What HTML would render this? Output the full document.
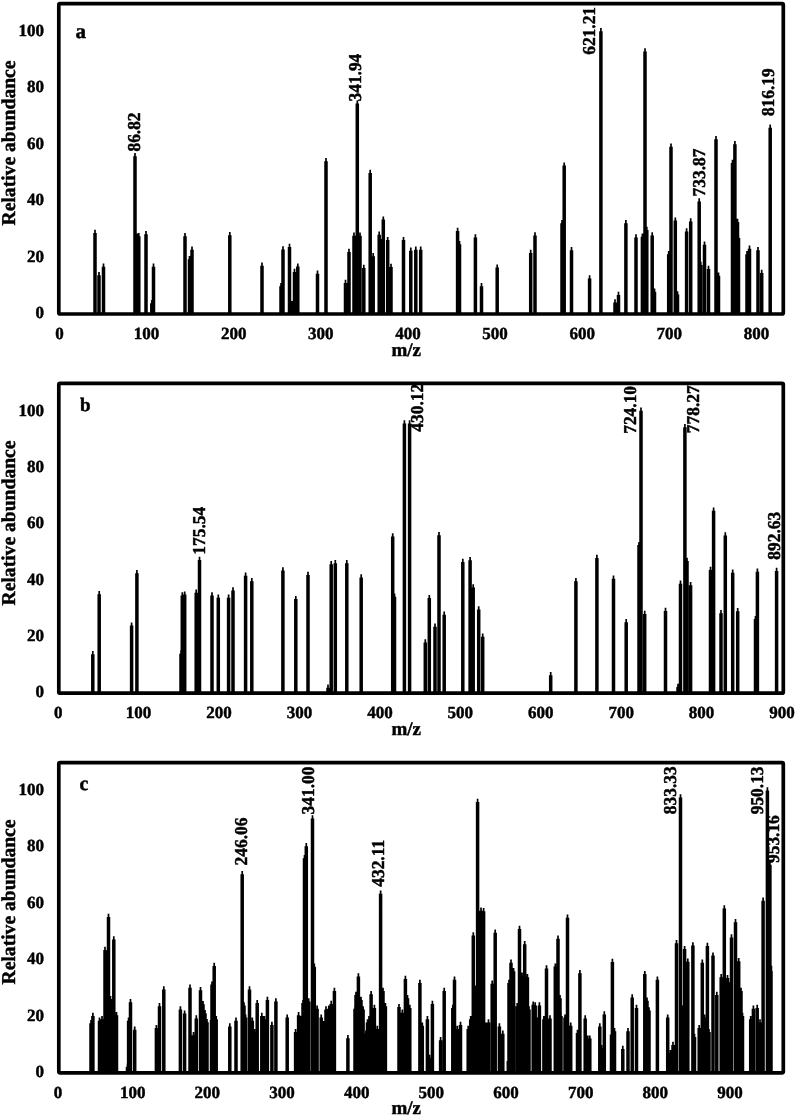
<!DOCTYPE html>
<html><head><meta charset="utf-8"><style>
html,body{margin:0;padding:0;background:#fff;}
svg{display:block;will-change:transform;}
text{font-family:"Liberation Serif", serif;font-weight:bold;fill:#000;stroke:#000;stroke-width:0.45px;text-rendering:geometricPrecision;}
</style></head><body>
<svg width="797" height="1117" viewBox="0 0 797 1117">
<rect x="0" y="0" width="797" height="1117" fill="#fff"/>

<path d="M93.25 314V233H94.15V229.8H95.85V233H96.75V314ZM97.25 314V275.2H98.15V272H99.85V275.2H100.75V314ZM101.75 314V266.7H102.65V263.5H104.35V266.7H105.25V314ZM133.25 314V156.2H134.15V153H135.85V156.2H136.75V314ZM135.75 314V236.7H136.65V233.5H138.35V236.7H139.25V314ZM137.05 314V236.2H137.95V233H139.65V236.2H140.55V314ZM144.25 314V234.2H145.15V231H146.85V234.2H147.75V314ZM150.05 314V303.2H150.95V300H152.65V303.2H153.55V314ZM151.75 314V266.7H152.65V263.5H154.35V266.7H155.25V314ZM183.25 314V236.2H184.15V233H185.85V236.2H186.75V314ZM187.75 314V259.2H188.65V256H190.35V259.2H191.25V314ZM190.25 314V249.7H191.15V246.5H192.85V249.7H193.75V314ZM228.05 314V235.2H228.95V232H230.65V235.2H231.55V314ZM260.25 314V265.7H261.15V262.5H262.85V265.7H263.75V314ZM279.25 314V286.2H280.15V283H281.85V286.2H282.75V314ZM281.25 314V249.5H282.15V246.3H283.85V249.5H284.75V314ZM287.75 314V246.9H288.65V243.7H290.35V246.9H291.25V314ZM290.25 314V304.2H291.15V301H292.85V304.2H293.75V314ZM292.75 314V271.9H293.65V268.7H295.35V271.9H296.25V314ZM296.05 314V266.6H296.95V263.4H298.65V266.6H299.55V314ZM315.75 314V273.7H316.65V270.5H318.35V273.7H319.25V314ZM324.25 314V161.2H325.15V158H326.85V161.2H327.75V314ZM343.75 314V283H344.65V279.8H346.35V283H347.25V314ZM347.25 314V251.9H348.15V248.7H349.85V251.9H350.75V314ZM352.25 314V235.8H353.15V232.6H354.85V235.8H355.75V314ZM355.55 314V103.6H356.45V100.4H358.15V103.6H359.05V314ZM358.25 314V235.8H359.15V232.6H360.85V235.8H361.75V314ZM362.05 314V268H362.95V264.8H364.65V268H365.55V314ZM368.45 314V173H369.35V169.8H371.05V173H371.95V314ZM371.45 314V256.2H372.35V253H374.05V256.2H374.95V314ZM377.45 314V234.7H378.35V231.5H380.05V234.7H380.95V314ZM379.75 314V242.2H380.65V239H382.35V242.2H383.25V314ZM381.55 314V219.6H382.45V216.4H384.15V219.6H385.05V314ZM385.95 314V240.1H386.85V236.9H388.55V240.1H389.45V314ZM389.25 314V266.9H390.15V263.7H391.85V266.9H392.75V314ZM401.75 314V240.1H402.65V236.9H404.35V240.1H405.25V314ZM409.05 314V250.8H409.95V247.6H411.65V250.8H412.55V314ZM414.05 314V249.7H414.95V246.5H416.65V249.7H417.55V314ZM418.95 314V249.7H419.85V246.5H421.55V249.7H422.45V314ZM455.85 314V231H456.75V227.8H458.45V231H459.35V314ZM457.75 314V244.2H458.65V241H460.35V244.2H461.25V314ZM473.65 314V237.5H474.55V234.3H476.25V237.5H477.15V314ZM479.75 314V286.2H480.65V283H482.35V286.2H483.25V314ZM495.45 314V267.6H496.35V264.4H498.05V267.6H498.95V314ZM528.95 314V252.9H529.85V249.7H531.55V252.9H532.45V314ZM533.25 314V235.4H534.15V232.2H535.85V235.4H536.75V314ZM560.25 314V223.3H561.15V220.1H562.85V223.3H563.75V314ZM562.45 314V165.6H563.35V162.4H565.05V165.6H565.95V314ZM569.75 314V250.2H570.65V247H572.35V250.2H573.25V314ZM587.85 314V278.4H588.75V275.2H590.45V278.4H591.35V314ZM599.15 314V31.2H600.05V28H601.75V31.2H602.65V314ZM613.25 314V302.5H614.15V299.3H615.85V302.5H616.75V314ZM616.75 314V295H617.65V291.8H619.35V295H620.25V314ZM624.15 314V223.3H625.05V220.1H626.75V223.3H627.65V314ZM634.25 314V237.5H635.15V234.3H636.85V237.5H637.75V314ZM640.65 314V236.7H641.55V233.5H643.25V236.7H644.15V314ZM643.25 314V51.4H644.15V48.2H645.85V51.4H646.75V314ZM645.05 314V230H645.95V226.8H647.65V230H648.55V314ZM650.45 314V235.4H651.35V232.2H653.05V235.4H653.95V314ZM652.75 314V291.8H653.65V288.6H655.35V291.8H656.25V314ZM666.95 314V254.2H667.85V251H669.55V254.2H670.45V314ZM669.25 314V146.8H670.15V143.6H671.85V146.8H672.75V314ZM673.55 314V220.6H674.45V217.4H676.15V220.6H677.05V314ZM675.75 314V294.5H676.65V291.3H678.35V294.5H679.25V314ZM684.85 314V231.4H685.75V228.2H687.45V231.4H688.35V314ZM688.95 314V221.4H689.85V218.2H691.55V221.4H692.45V314ZM697.45 314V201.5H698.35V198.3H700.05V201.5H700.95V314ZM699.05 314V264.9H699.95V261.7H701.65V264.9H702.55V314ZM702.75 314V244.8H703.65V241.6H705.35V244.8H706.25V314ZM706.75 314V269H707.65V265.8H709.35V269H710.25V314ZM714.25 314V139.2H715.15V136H716.85V139.2H717.75V314ZM716.75 314V275.7H717.65V272.5H719.35V275.7H720.25V314ZM730.75 314V162.9H731.65V159.7H733.35V162.9H734.25V314ZM733.15 314V144.2H734.05V141H735.75V144.2H736.65V314ZM735.75 314V222H736.65V218.8H738.35V222H739.25V314ZM736.75 314V238.1H737.65V234.9H739.35V238.1H740.25V314ZM745.25 314V254.2H746.15V251H747.85V254.2H748.75V314ZM747.75 314V248.8H748.65V245.6H750.35V248.8H751.25V314ZM756.25 314V250.2H757.15V247H758.85V250.2H759.75V314ZM759.95 314V273H760.85V269.8H762.55V273H763.45V314ZM768.45 314V127.7H769.35V124.5H771.05V127.7H771.95V314Z" fill="#000"/>
<rect x="58.8" y="3.6" width="724.5" height="310.4" rx="1.3" fill="none" stroke="#000" stroke-width="3.7"/>
<text x="44" y="318.1" font-size="17" text-anchor="end">0</text>
<text x="44" y="261.66" font-size="17" text-anchor="end">20</text>
<text x="44" y="205.23" font-size="17" text-anchor="end">40</text>
<text x="44" y="148.79" font-size="17" text-anchor="end">60</text>
<text x="44" y="92.35" font-size="17" text-anchor="end">80</text>
<text x="44" y="35.92" font-size="17" text-anchor="end">100</text>
<text x="59.4" y="338.5" font-size="17" text-anchor="middle">0</text>
<text x="146.53" y="338.5" font-size="17" text-anchor="middle">100</text>
<text x="233.66" y="338.5" font-size="17" text-anchor="middle">200</text>
<text x="320.79" y="338.5" font-size="17" text-anchor="middle">300</text>
<text x="407.92" y="338.5" font-size="17" text-anchor="middle">400</text>
<text x="495.05" y="338.5" font-size="17" text-anchor="middle">500</text>
<text x="582.18" y="338.5" font-size="17" text-anchor="middle">600</text>
<text x="669.31" y="338.5" font-size="17" text-anchor="middle">700</text>
<text x="756.44" y="338.5" font-size="17" text-anchor="middle">800</text>
<text x="406.3" y="355.6" font-size="19" text-anchor="middle">m/z</text>
<text transform="translate(14.9 143.0) rotate(-90)" x="0" y="0" font-size="19.6" text-anchor="middle">Relative abundance</text>
<text x="75.6" y="38.3" font-size="21">a</text>
<text transform="translate(139.8 132) rotate(-90) scale(1 1.04)" x="0" y="0" font-size="17.4" text-anchor="middle">86.82</text>
<text transform="translate(361.4 77.6) rotate(-90) scale(1 1.04)" x="0" y="0" font-size="17.4" text-anchor="middle">341.94</text>
<text transform="translate(595.1 30.9) rotate(-90) scale(1 1.04)" x="0" y="0" font-size="17.4" text-anchor="middle">621.21</text>
<text transform="translate(705.3 172.5) rotate(-90) scale(1 1.04)" x="0" y="0" font-size="17.4" text-anchor="middle">733.87</text>
<text transform="translate(774.1 92.2) rotate(-90) scale(1 1.04)" x="0" y="0" font-size="17.4" text-anchor="middle">816.19</text>
<path d="M91.05 693.2V654.2H91.95V651H93.65V654.2H94.55V693.2ZM97.45 693.2V594.2H98.35V591H100.05V594.2H100.95V693.2ZM129.85 693.2V625.6H130.75V622.4H132.45V625.6H133.35V693.2ZM135.15 693.2V573.3H136.05V570.1H137.75V573.3H138.65V693.2ZM179.25 693.2V653.7H180.15V650.5H181.85V653.7H182.75V693.2ZM180.55 693.2V595.5H181.45V592.3H183.15V595.5H184.05V693.2ZM182.95 693.2V594.6H183.85V591.4H185.55V594.6H186.45V693.2ZM194.45 693.2V592.8H195.35V589.6H197.05V592.8H197.95V693.2ZM197.75 693.2V560H198.65V556.8H200.35V560H201.25V693.2ZM210.25 693.2V595.5H211.15V592.3H212.85V595.5H213.75V693.2ZM216.55 693.2V597.8H217.45V594.6H219.15V597.8H220.05V693.2ZM226.85 693.2V597.8H227.75V594.6H229.45V597.8H230.35V693.2ZM231.25 693.2V590.5H232.15V587.3H233.85V590.5H234.75V693.2ZM243.85 693.2V575.8H244.75V572.6H246.45V575.8H247.35V693.2ZM250.05 693.2V581.2H250.95V578H252.65V581.2H253.55V693.2ZM281.15 693.2V570.4H282.05V567.2H283.75V570.4H284.65V693.2ZM294.05 693.2V599.1H294.95V595.9H296.65V599.1H297.55V693.2ZM306.25 693.2V574.9H307.15V571.7H308.85V574.9H309.75V693.2ZM326.25 693.2V687.8H327.15V684.6H328.85V687.8H329.75V693.2ZM329.45 693.2V564.2H330.35V561H332.05V564.2H332.95V693.2ZM333.55 693.2V563.2H334.45V560H336.15V563.2H337.05V693.2ZM345.05 693.2V563.2H345.95V560H347.65V563.2H348.55V693.2ZM359.45 693.2V577.5H360.35V574.3H362.05V577.5H362.95V693.2ZM390.95 693.2V536.5H391.85V533.3H393.55V536.5H394.45V693.2ZM392.75 693.2V596.7H393.65V593.5H395.35V596.7H396.25V693.2ZM402.65 693.2V423.4H403.55V420.2H405.25V423.4H406.15V693.2ZM407.85 693.2V423.4H408.75V420.2H410.45V423.4H411.35V693.2ZM423.55 693.2V642.5H424.45V639.3H426.15V642.5H427.05V693.2ZM427.55 693.2V598.1H428.45V594.9H430.15V598.1H431.05V693.2ZM433.25 693.2V626.7H434.15V623.5H435.85V626.7H436.75V693.2ZM437.25 693.2V535.2H438.15V532H439.85V535.2H440.75V693.2ZM442.45 693.2V614.7H443.35V611.5H445.05V614.7H445.95V693.2ZM461.05 693.2V562H461.95V558.8H463.65V562H464.55V693.2ZM468.35 693.2V560.2H469.25V557H470.95V560.2H471.85V693.2ZM471.45 693.2V587.4H472.35V584.2H474.05V587.4H474.95V693.2ZM476.95 693.2V609.5H477.85V606.3H479.55V609.5H480.45V693.2ZM480.95 693.2V636.7H481.85V633.5H483.55V636.7H484.45V693.2ZM548.95 693.2V675.2H549.85V672H551.55V675.2H552.45V693.2ZM574.15 693.2V581.2H575.05V578H576.75V581.2H577.65V693.2ZM595.15 693.2V557.9H596.05V554.7H597.75V557.9H598.65V693.2ZM611.75 693.2V578.8H612.65V575.6H614.35V578.8H615.25V693.2ZM624.45 693.2V622.2H625.35V619H627.05V622.2H627.95V693.2ZM637.25 693.2V545.1H638.15V541.9H639.85V545.1H640.75V693.2ZM639.25 693.2V410.7H640.15V407.5H641.85V410.7H642.75V693.2ZM642.95 693.2V613.9H643.85V610.7H645.55V613.9H646.45V693.2ZM663.75 693.2V611H664.65V607.8H666.35V611H667.25V693.2ZM676.25 693.2V686.9H677.15V683.7H678.85V686.9H679.75V693.2ZM678.75 693.2V583.8H679.65V580.6H681.35V583.8H682.25V693.2ZM683.15 693.2V427.3H684.05V424.1H685.75V427.3H686.65V693.2ZM685.25 693.2V560.9H686.15V557.7H687.85V560.9H688.75V693.2ZM688.85 693.2V585.2H689.75V582H691.45V585.2H692.35V693.2ZM708.75 693.2V569.9H709.65V566.7H711.35V569.9H712.25V693.2ZM711.85 693.2V510.8H712.75V507.6H714.45V510.8H715.35V693.2ZM719.25 693.2V613.2H720.15V610H721.85V613.2H722.75V693.2ZM723.55 693.2V535.4H724.45V532.2H726.15V535.4H727.05V693.2ZM730.95 693.2V572.8H731.85V569.6H733.55V572.8H734.45V693.2ZM735.95 693.2V611.2H736.85V608H738.55V611.2H739.45V693.2ZM753.75 693.2V619.1H754.65V615.9H756.35V619.1H757.25V693.2ZM755.65 693.2V571.8H756.55V568.6H758.25V571.8H759.15V693.2ZM774.85 693.2V570.9H775.75V567.7H777.45V570.9H778.35V693.2Z" fill="#000"/>
<rect x="58.8" y="383.3" width="724.5" height="309.9" rx="1.3" fill="none" stroke="#000" stroke-width="3.7"/>
<text x="44" y="697.3" font-size="17" text-anchor="end">0</text>
<text x="44" y="640.95" font-size="17" text-anchor="end">20</text>
<text x="44" y="584.61" font-size="17" text-anchor="end">40</text>
<text x="44" y="528.26" font-size="17" text-anchor="end">60</text>
<text x="44" y="471.92" font-size="17" text-anchor="end">80</text>
<text x="44" y="415.57" font-size="17" text-anchor="end">100</text>
<text x="58.2" y="717.5" font-size="17" text-anchor="middle">0</text>
<text x="138.62" y="717.5" font-size="17" text-anchor="middle">100</text>
<text x="219.04" y="717.5" font-size="17" text-anchor="middle">200</text>
<text x="299.46" y="717.5" font-size="17" text-anchor="middle">300</text>
<text x="379.88" y="717.5" font-size="17" text-anchor="middle">400</text>
<text x="460.3" y="717.5" font-size="17" text-anchor="middle">500</text>
<text x="540.72" y="717.5" font-size="17" text-anchor="middle">600</text>
<text x="621.14" y="717.5" font-size="17" text-anchor="middle">700</text>
<text x="701.56" y="717.5" font-size="17" text-anchor="middle">800</text>
<text x="781.98" y="717.5" font-size="17" text-anchor="middle">900</text>
<text x="406.3" y="735.0" font-size="19" text-anchor="middle">m/z</text>
<text transform="translate(14.9 523.0) rotate(-90)" x="0" y="0" font-size="19.6" text-anchor="middle">Relative abundance</text>
<text x="80.0" y="411.3" font-size="19">b</text>
<text transform="translate(204.5 530.8) rotate(-90) scale(1 1.04)" x="0" y="0" font-size="17.4" text-anchor="middle">175.54</text>
<text transform="translate(422.9 407.8) rotate(-90) scale(1 1.04)" x="0" y="0" font-size="17.4" text-anchor="middle">430.12</text>
<text transform="translate(635.6 409.9) rotate(-90) scale(1 1.04)" x="0" y="0" font-size="17.4" text-anchor="middle">724.10</text>
<text transform="translate(699.3 409.3) rotate(-90) scale(1 1.04)" x="0" y="0" font-size="17.4" text-anchor="middle">778.27</text>
<text transform="translate(779.6 535.8) rotate(-90) scale(1 1.04)" x="0" y="0" font-size="17.4" text-anchor="middle">892.63</text>
<path d="M89.25 1072.9V1023.2H90.15V1020H91.85V1023.2H92.75V1072.9ZM91.15 1072.9V1016H92.05V1012.8H93.75V1016H94.65V1072.9ZM97.75 1072.9V1020.8H98.65V1017.6H100.35V1020.8H101.25V1072.9ZM100.25 1072.9V1019.2H101.15V1016H102.85V1019.2H103.75V1072.9ZM103.25 1072.9V949.9H104.15V946.7H105.85V949.9H106.75V1072.9ZM106.75 1072.9V916.9H107.65V913.7H109.35V916.9H110.25V1072.9ZM108.75 1072.9V999.1H109.65V995.9H111.35V999.1H112.25V1072.9ZM112.05 1072.9V939.5H112.95V936.3H114.65V939.5H115.55V1072.9ZM114.75 1072.9V1015.2H115.65V1012H117.35V1015.2H118.25V1072.9ZM125.75 1072.9V1066.7H126.65V1063.5H128.35V1066.7H129.25V1072.9ZM126.85 1072.9V1020.8H127.75V1017.6H129.45V1020.8H130.35V1072.9ZM128.75 1072.9V1002.2H129.65V999H131.35V1002.2H132.25V1072.9ZM132.95 1072.9V1029.7H133.85V1026.5H135.55V1029.7H136.45V1072.9ZM154.65 1072.9V1028.1H155.55V1024.9H157.25V1028.1H158.15V1072.9ZM157.75 1072.9V1006.3H158.65V1003.1H160.35V1006.3H161.25V1072.9ZM162.05 1072.9V989.4H162.95V986.2H164.65V989.4H165.55V1072.9ZM178.65 1072.9V1009.5H179.55V1006.3H181.25V1009.5H182.15V1072.9ZM182.85 1072.9V1013.6H183.75V1010.4H185.45V1013.6H186.35V1072.9ZM188.25 1072.9V987.8H189.15V984.6H190.85V987.8H191.75V1072.9ZM190.75 1072.9V1043.4H191.65V1040.2H193.35V1043.4H194.25V1072.9ZM191.75 1072.9V1035.2H192.65V1032H194.35V1035.2H195.25V1072.9ZM194.55 1072.9V1018.4H195.45V1015.2H197.15V1018.4H198.05V1072.9ZM198.75 1072.9V990.2H199.65V987H201.35V990.2H202.25V1072.9ZM201.25 1072.9V1004.2H202.15V1001H203.85V1004.2H204.75V1072.9ZM203.25 1072.9V1013.2H204.15V1010H205.85V1013.2H206.75V1072.9ZM205.25 1072.9V1022.2H206.15V1019H207.85V1022.2H208.75V1072.9ZM209.75 1072.9V1020H210.65V1016.8H212.35V1020H213.25V1072.9ZM210.25 1072.9V984.6H211.15V981.4H212.85V984.6H213.75V1072.9ZM212.45 1072.9V966H213.35V962.8H215.05V966H215.95V1072.9ZM214.45 1072.9V1019.2H215.35V1016H217.05V1019.2H217.95V1072.9ZM228.05 1072.9V1026.5H228.95V1023.3H230.65V1026.5H231.55V1072.9ZM234.25 1072.9V1020.8H235.15V1017.6H236.85V1020.8H237.75V1072.9ZM240.45 1072.9V874.2H241.35V871H243.05V874.2H243.95V1072.9ZM242.25 1072.9V1005.5H243.15V1002.3H244.85V1005.5H245.75V1072.9ZM243.85 1072.9V1017.6H244.75V1014.4H246.45V1017.6H247.35V1072.9ZM247.75 1072.9V989.4H248.65V986.2H250.35V989.4H251.25V1072.9ZM250.55 1072.9V1020.8H251.45V1017.6H253.15V1020.8H254.05V1072.9ZM252.75 1072.9V1032.1H253.65V1028.9H255.35V1032.1H256.25V1072.9ZM255.45 1072.9V1003.1H256.35V999.9H258.05V1003.1H258.95V1072.9ZM260.05 1072.9V1016H260.95V1012.8H262.65V1016H263.55V1072.9ZM262.65 1072.9V1019.2H263.55V1016H265.25V1019.2H266.15V1072.9ZM265.65 1072.9V999.9H266.55V996.7H268.25V999.9H269.15V1072.9ZM270.15 1072.9V1024.9H271.05V1021.7H272.75V1024.9H273.65V1072.9ZM274.15 1072.9V1001.5H275.05V998.3H276.75V1001.5H277.65V1072.9ZM285.45 1072.9V1017.6H286.35V1014.4H288.05V1017.6H288.95V1072.9ZM293.85 1072.9V1032.1H294.75V1028.9H296.45V1032.1H297.35V1072.9ZM296.85 1072.9V1015.2H297.75V1012H299.45V1015.2H300.35V1072.9ZM298.85 1072.9V1019.2H299.75V1016H301.45V1019.2H302.35V1072.9ZM301.25 1072.9V1003.1H302.15V999.9H303.85V1003.1H304.75V1072.9ZM302.75 1072.9V858.2H303.65V855H305.35V858.2H306.25V1072.9ZM304.55 1072.9V846.2H305.45V843H307.15V846.2H308.05V1072.9ZM306.95 1072.9V1001.5H307.85V998.3H309.55V1001.5H310.45V1072.9ZM310.75 1072.9V818.4H311.65V815.2H313.35V818.4H314.25V1072.9ZM312.55 1072.9V966.8H313.45V963.6H315.15V966.8H316.05V1072.9ZM315.35 1072.9V1008.7H316.25V1005.5H317.95V1008.7H318.85V1072.9ZM319.45 1072.9V1017.6H320.35V1014.4H322.05V1017.6H322.95V1072.9ZM321.75 1072.9V1024.1H322.65V1020.9H324.35V1024.1H325.25V1072.9ZM324.25 1072.9V1009.5H325.15V1006.3H326.85V1009.5H327.75V1072.9ZM327.05 1072.9V1008.7H327.95V1005.5H329.65V1008.7H330.55V1072.9ZM329.45 1072.9V1003.9H330.35V1000.7H332.05V1003.9H332.95V1072.9ZM332.65 1072.9V991H333.55V987.8H335.25V991H336.15V1072.9ZM346.15 1072.9V1038.2H347.05V1035H348.75V1038.2H349.65V1072.9ZM353.25 1072.9V1008.7H354.15V1005.5H355.85V1008.7H356.75V1072.9ZM354.25 1072.9V995H355.15V991.8H356.85V995H357.75V1072.9ZM356.65 1072.9V976.5H357.55V973.3H359.25V976.5H360.15V1072.9ZM359.25 1072.9V999.9H360.15V996.7H361.85V999.9H362.75V1072.9ZM361.35 1072.9V1009.5H362.25V1006.3H363.95V1009.5H364.85V1072.9ZM364.15 1072.9V1033.7H365.05V1030.5H366.75V1033.7H367.65V1072.9ZM365.75 1072.9V1022.4H366.65V1019.2H368.35V1022.4H369.25V1072.9ZM367.25 1072.9V1019.2H368.15V1016H369.85V1019.2H370.75V1072.9ZM369.35 1072.9V994.2H370.25V991H371.95V994.2H372.85V1072.9ZM372.65 1072.9V1007.9H373.55V1004.7H375.25V1007.9H376.15V1072.9ZM375.55 1072.9V1028.9H376.45V1025.7H378.15V1028.9H379.05V1072.9ZM378.85 1072.9V893.8H379.75V890.6H381.45V893.8H382.35V1072.9ZM381.25 1072.9V991H382.15V987.8H383.85V991H384.75V1072.9ZM383.65 1072.9V1006.3H384.55V1003.1H386.25V1006.3H387.15V1072.9ZM397.25 1072.9V1007.1H398.15V1003.9H399.85V1007.1H400.75V1072.9ZM400.55 1072.9V1012.8H401.45V1009.6H403.15V1012.8H404.05V1072.9ZM403.65 1072.9V978.9H404.55V975.7H406.25V978.9H407.15V1072.9ZM405.75 1072.9V998.2H406.65V995H408.35V998.2H409.25V1072.9ZM408.05 1072.9V1007.9H408.95V1004.7H410.65V1007.9H411.55V1072.9ZM418.15 1072.9V983H419.05V979.8H420.75V983H421.65V1072.9ZM420.55 1072.9V1025.7H421.45V1022.5H423.15V1025.7H424.05V1072.9ZM425.65 1072.9V1019.2H426.55V1016H428.25V1019.2H429.15V1072.9ZM427.75 1072.9V1057.9H428.65V1054.7H430.35V1057.9H431.25V1072.9ZM430.65 1072.9V1003.9H431.55V1000.7H433.25V1003.9H434.15V1072.9ZM438.85 1072.9V1040.2H439.75V1037H441.45V1040.2H442.35V1072.9ZM442.45 1072.9V991H443.35V987.8H445.05V991H445.95V1072.9ZM451.05 1072.9V1007.9H451.95V1004.7H453.65V1007.9H454.55V1072.9ZM452.75 1072.9V979.7H453.65V976.5H455.35V979.7H456.25V1072.9ZM455.55 1072.9V1028.9H456.45V1025.7H458.15V1028.9H459.05V1072.9ZM458.75 1072.9V1024.9H459.65V1021.7H461.35V1024.9H462.25V1072.9ZM466.45 1072.9V1028.9H467.35V1025.7H469.05V1028.9H469.95V1072.9ZM468.95 1072.9V1019.2H469.85V1016H471.55V1019.2H472.45V1072.9ZM471.55 1072.9V935.4H472.45V932.2H474.15V935.4H475.05V1072.9ZM473.45 1072.9V988.6H474.35V985.4H476.05V988.6H476.95V1072.9ZM475.85 1072.9V801.9H476.75V798.7H478.45V801.9H479.35V1072.9ZM479.25 1072.9V910.7H480.15V907.5H481.85V910.7H482.75V1072.9ZM481.85 1072.9V911.2H482.75V908H484.45V911.2H485.35V1072.9ZM484.45 1072.9V1025.7H485.35V1022.5H487.05V1025.7H487.95V1072.9ZM486.75 1072.9V1022.4H487.65V1019.2H489.35V1022.4H490.25V1072.9ZM490.45 1072.9V983.8H491.35V980.6H493.05V983.8H493.95V1072.9ZM493.45 1072.9V932.7H494.35V929.5H496.05V932.7H496.95V1072.9ZM497.65 1072.9V1026.5H498.55V1023.3H500.25V1026.5H501.15V1072.9ZM501.05 1072.9V1033.7H501.95V1030.5H503.65V1033.7H504.55V1072.9ZM506.55 1072.9V1061.1H507.45V1057.9H509.15V1061.1H510.05V1072.9ZM507.25 1072.9V983H508.15V979.8H509.85V983H510.75V1072.9ZM509.25 1072.9V962.8H510.15V959.6H511.85V962.8H512.75V1072.9ZM511.85 1072.9V971.2H512.75V968H514.45V971.2H515.35V1072.9ZM515.45 1072.9V1006.3H516.35V1003.1H518.05V1006.3H518.95V1072.9ZM517.75 1072.9V929H518.65V925.8H520.35V929H521.25V1072.9ZM520.25 1072.9V975.7H521.15V972.5H522.85V975.7H523.75V1072.9ZM522.95 1072.9V944.2H523.85V941H525.55V944.2H526.45V1072.9ZM525.65 1072.9V977.2H526.55V974H528.25V977.2H529.15V1072.9ZM527.25 1072.9V1009.5H528.15V1006.3H529.85V1009.5H530.75V1072.9ZM531.45 1072.9V1004.7H532.35V1001.5H534.05V1004.7H534.95V1072.9ZM533.45 1072.9V1005.5H534.35V1002.3H536.05V1005.5H536.95V1072.9ZM535.25 1072.9V1020.8H536.15V1017.6H537.85V1020.8H538.75V1072.9ZM537.65 1072.9V1005.5H538.55V1002.3H540.25V1005.5H541.15V1072.9ZM542.15 1072.9V1019.2H543.05V1016H544.75V1019.2H545.65V1072.9ZM544.75 1072.9V968.4H545.65V965.2H547.35V968.4H548.25V1072.9ZM548.25 1072.9V1018.4H549.15V1015.2H550.85V1018.4H551.75V1072.9ZM553.55 1072.9V966.6H554.45V963.4H556.15V966.6H557.05V1072.9ZM556.25 1072.9V938.7H557.15V935.5H558.85V938.7H559.75V1072.9ZM558.25 1072.9V998.2H559.15V995H560.85V998.2H561.75V1072.9ZM559.25 1072.9V1016H560.15V1012.8H561.85V1016H562.75V1072.9ZM563.25 1072.9V1017.6H564.15V1014.4H565.85V1017.6H566.75V1072.9ZM565.75 1072.9V917.7H566.65V914.5H568.35V917.7H569.25V1072.9ZM568.95 1072.9V1025.7H569.85V1022.5H571.55V1025.7H572.45V1072.9ZM575.75 1072.9V1032.9H576.65V1029.7H578.35V1032.9H579.25V1072.9ZM578.15 1072.9V973.3H579.05V970.1H580.75V973.3H581.65V1072.9ZM583.45 1072.9V1018.4H584.35V1015.2H586.05V1018.4H586.95V1072.9ZM586.05 1072.9V1038.6H586.95V1035.4H588.65V1038.6H589.55V1072.9ZM588.05 1072.9V1038.6H588.95V1035.4H590.65V1038.6H591.55V1072.9ZM598.05 1072.9V1026.5H598.95V1023.3H600.65V1026.5H601.55V1072.9ZM599.75 1072.9V1048.2H600.65V1045H602.35V1048.2H603.25V1072.9ZM602.55 1072.9V1014.4H603.45V1011.2H605.15V1014.4H606.05V1072.9ZM609.75 1072.9V1034.5H610.65V1031.3H612.35V1034.5H613.25V1072.9ZM610.65 1072.9V962H611.55V958.8H613.25V962H614.15V1072.9ZM612.75 1072.9V1031.3H613.65V1028.1H615.35V1031.3H616.25V1072.9ZM621.05 1072.9V1049H621.95V1045.8H623.65V1049H624.55V1072.9ZM626.25 1072.9V1031.3H627.15V1028.1H628.85V1031.3H629.75V1072.9ZM630.45 1072.9V997.5H631.35V994.3H633.05V997.5H633.95V1072.9ZM634.75 1072.9V1007.9H635.65V1004.7H637.35V1007.9H638.25V1072.9ZM643.05 1072.9V974.1H643.95V970.9H645.65V974.1H646.55V1072.9ZM645.25 1072.9V1000.7H646.15V997.5H647.85V1000.7H648.75V1072.9ZM647.25 1072.9V1010.4H648.15V1007.2H649.85V1010.4H650.75V1072.9ZM655.65 1072.9V979.7H656.55V976.5H658.25V979.7H659.15V1072.9ZM665.95 1072.9V1017.6H666.85V1014.4H668.55V1017.6H669.45V1072.9ZM668.75 1072.9V1053.1H669.65V1049.9H671.35V1053.1H672.25V1072.9ZM671.25 1072.9V1045H672.15V1041.8H673.85V1045H674.75V1072.9ZM674.75 1072.9V943.2H675.65V940H677.35V943.2H678.25V1072.9ZM678.75 1072.9V797.4H679.65V794.2H681.35V797.4H682.25V1072.9ZM680.75 1072.9V1008.7H681.65V1005.5H683.35V1008.7H684.25V1072.9ZM682.85 1072.9V949.1H683.75V945.9H685.45V949.1H686.35V1072.9ZM686.05 1072.9V961.7H686.95V958.5H688.65V961.7H689.55V1072.9ZM691.15 1072.9V945.4H692.05V942.2H693.75V945.4H694.65V1072.9ZM692.75 1072.9V1036.9H693.65V1033.7H695.35V1036.9H696.25V1072.9ZM697.45 1072.9V1028.1H698.35V1024.9H700.05V1028.1H700.95V1072.9ZM700.55 1072.9V962.8H701.45V959.6H703.15V962.8H704.05V1072.9ZM702.75 1072.9V1017.6H703.65V1014.4H705.35V1017.6H706.25V1072.9ZM705.65 1072.9V945.9H706.55V942.7H708.25V945.9H709.15V1072.9ZM707.25 1072.9V1032.1H708.15V1028.9H709.85V1032.1H710.75V1072.9ZM711.25 1072.9V955.6H712.15V952.4H713.85V955.6H714.75V1072.9ZM715.05 1072.9V995H715.95V991.8H717.65V995H718.55V1072.9ZM719.45 1072.9V977.3H720.35V974.1H722.05V977.3H722.95V1072.9ZM722.55 1072.9V908.5H723.45V905.3H725.15V908.5H726.05V1072.9ZM725.75 1072.9V978.1H726.65V974.9H728.35V978.1H729.25V1072.9ZM727.75 1072.9V985.4H728.65V982.2H730.35V985.4H731.25V1072.9ZM729.75 1072.9V937.5H730.65V934.3H732.35V937.5H733.25V1072.9ZM733.75 1072.9V922.2H734.65V919H736.35V922.2H737.25V1072.9ZM736.95 1072.9V961.2H737.85V958H739.55V961.2H740.45V1072.9ZM739.25 1072.9V991H740.15V987.8H741.85V991H742.75V1072.9ZM740.75 1072.9V1016H741.65V1012.8H743.35V1016H744.25V1072.9ZM748.95 1072.9V1019.2H749.85V1016H751.55V1019.2H752.45V1072.9ZM751.65 1072.9V1008.7H752.55V1005.5H754.25V1008.7H755.15V1072.9ZM755.45 1072.9V1007.9H756.35V1004.7H758.05V1007.9H758.95V1072.9ZM758.25 1072.9V1022.4H759.15V1019.2H760.85V1022.4H761.75V1072.9ZM761.35 1072.9V900.7H762.25V897.5H763.95V900.7H764.85V1072.9ZM765.65 1072.9V790.4H766.55V787.2H768.25V790.4H769.15V1072.9ZM768.15 1072.9V864.8H769.05V861.6H770.75V864.8H771.65V1072.9ZM768.75 1072.9V965.7H769.65V962.5H771.35V965.7H772.25V1072.9ZM769.25 1072.9V970.9H770.15V967.7H771.85V970.9H772.75V1072.9Z" fill="#000"/>
<rect x="58.8" y="762.6" width="724.5" height="310.3" rx="1.3" fill="none" stroke="#000" stroke-width="3.7"/>
<text x="44" y="1077" font-size="17" text-anchor="end">0</text>
<text x="44" y="1020.58" font-size="17" text-anchor="end">20</text>
<text x="44" y="964.16" font-size="17" text-anchor="end">40</text>
<text x="44" y="907.75" font-size="17" text-anchor="end">60</text>
<text x="44" y="851.33" font-size="17" text-anchor="end">80</text>
<text x="44" y="794.91" font-size="17" text-anchor="end">100</text>
<text x="58" y="1097.7" font-size="17" text-anchor="middle">0</text>
<text x="132.67" y="1097.7" font-size="17" text-anchor="middle">100</text>
<text x="207.34" y="1097.7" font-size="17" text-anchor="middle">200</text>
<text x="282.01" y="1097.7" font-size="17" text-anchor="middle">300</text>
<text x="356.68" y="1097.7" font-size="17" text-anchor="middle">400</text>
<text x="431.35" y="1097.7" font-size="17" text-anchor="middle">500</text>
<text x="506.02" y="1097.7" font-size="17" text-anchor="middle">600</text>
<text x="580.69" y="1097.7" font-size="17" text-anchor="middle">700</text>
<text x="655.36" y="1097.7" font-size="17" text-anchor="middle">800</text>
<text x="730.03" y="1097.7" font-size="17" text-anchor="middle">900</text>
<text x="406.3" y="1114.2" font-size="19" text-anchor="middle">m/z</text>
<text transform="translate(14.9 902.0) rotate(-90)" x="0" y="0" font-size="19.6" text-anchor="middle">Relative abundance</text>
<text x="79.6" y="790.3" font-size="20">c</text>
<text transform="translate(247.1 841.5) rotate(-90) scale(1 1.04)" x="0" y="0" font-size="17.4" text-anchor="middle">246.06</text>
<text transform="translate(314.4 790.5) rotate(-90) scale(1 1.04)" x="0" y="0" font-size="17.4" text-anchor="middle">341.00</text>
<text transform="translate(383.8 863.3) rotate(-90) scale(1 1.04)" x="0" y="0" font-size="17.4" text-anchor="middle">432.11</text>
<text transform="translate(676.2 790.3) rotate(-90) scale(1 1.04)" x="0" y="0" font-size="17.4" text-anchor="middle">833.33</text>
<text transform="translate(762.6 790.4) rotate(-90) scale(1 1.04)" x="0" y="0" font-size="17.4" text-anchor="middle">950.13</text>
<text transform="translate(779.4 839.1) rotate(-90) scale(1 1.04)" x="0" y="0" font-size="17.4" text-anchor="middle">953.16</text>
</svg></body></html>
